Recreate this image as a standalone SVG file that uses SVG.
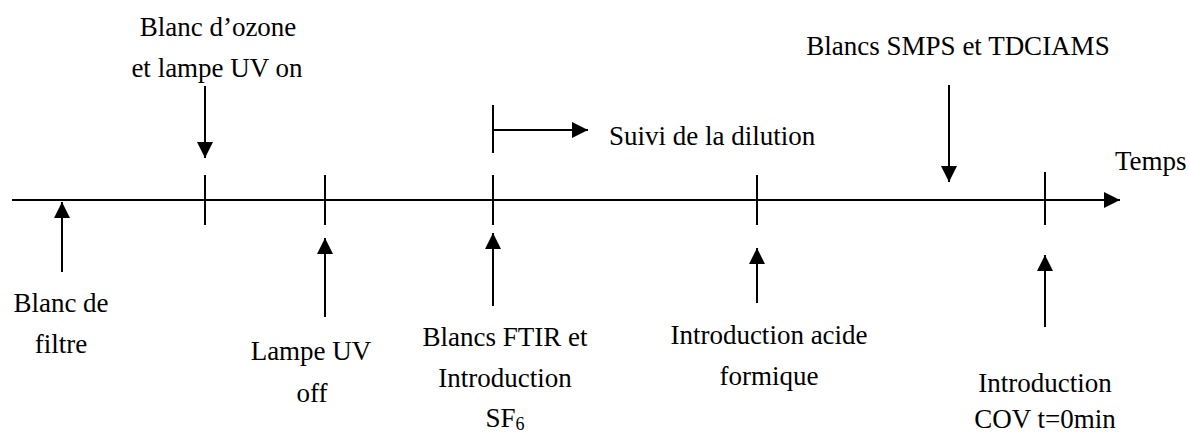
<svg xmlns="http://www.w3.org/2000/svg" width="1189" height="435" viewBox="0 0 1189 435">
<defs>
<marker id="ah" viewBox="0 0 16 16" refX="16" refY="8" markerWidth="16" markerHeight="16" markerUnits="userSpaceOnUse" orient="auto">
<path d="M0,0 L16,8 L0,16 Z" fill="#000"/>
</marker>
</defs>
<style>
text{font-family:'Liberation Serif','Times New Roman',Tinos,'Nimbus Roman','Nimbus Roman No9 L',FreeSerif,'Noto Serif','DejaVu Serif',serif;font-size:27px;fill:#000;text-anchor:middle}
.l{stroke:#000;stroke-width:2;fill:none}
.a{stroke:#000;stroke-width:2;fill:none;marker-end:url(#ah)}
</style>
<rect width="1189" height="435" fill="#fff"/>
<g id="connectors">
<line id="axis" class="a" x1="12" y1="200" x2="1120" y2="200"/>
<line class="l" x1="205" y1="175" x2="205" y2="225"/>
<line class="l" x1="325" y1="175" x2="325" y2="225"/>
<line class="l" x1="493" y1="175" x2="493" y2="225"/>
<line class="l" x1="757" y1="175" x2="757" y2="225"/>
<line class="l" x1="1045" y1="172" x2="1045" y2="225"/>
<line class="l" x1="493" y1="105" x2="493" y2="153"/>
<line class="a" x1="493" y1="130" x2="588" y2="130"/>
<line class="a" x1="205" y1="86" x2="205" y2="158"/>
<line class="a" x1="949" y1="85" x2="949" y2="182"/>
<line class="a" x1="62" y1="272" x2="62" y2="202"/>
<line class="a" x1="325" y1="317" x2="325" y2="238"/>
<line class="a" x1="493" y1="306" x2="493" y2="233"/>
<line class="a" x1="757" y1="303" x2="757" y2="248"/>
<line class="a" x1="1045" y1="327" x2="1045" y2="255"/>
</g>
<g id="n-ozone"><text x="218" y="36">Blanc d’ozone</text><text x="217" y="77">et lampe UV on</text></g>
<g id="n-smps"><text x="958" y="55">Blancs SMPS et TDCIAMS</text></g>
<g id="n-dilution"><text x="609" y="145" style="text-anchor:start">Suivi de la dilution</text></g>
<g id="n-temps"><text x="1115" y="170" style="text-anchor:start">Temps</text></g>
<g id="n-filtre"><text x="61" y="312">Blanc de</text><text x="61" y="353">filtre</text></g>
<g id="n-lampe"><text x="311" y="360">Lampe UV</text><text x="312" y="402">off</text></g>
<g id="n-ftir"><text x="505" y="346">Blancs FTIR et</text><text x="505" y="387">Introduction</text><text x="505" y="427">SF<tspan font-size="18" dy="3">6</tspan></text></g>
<g id="n-acide"><text x="769" y="344">Introduction acide</text><text x="769" y="385">formique</text></g>
<g id="n-cov"><text x="1045" y="392">Introduction</text><text x="1045" y="428">COV t=0min</text></g>
</svg>
